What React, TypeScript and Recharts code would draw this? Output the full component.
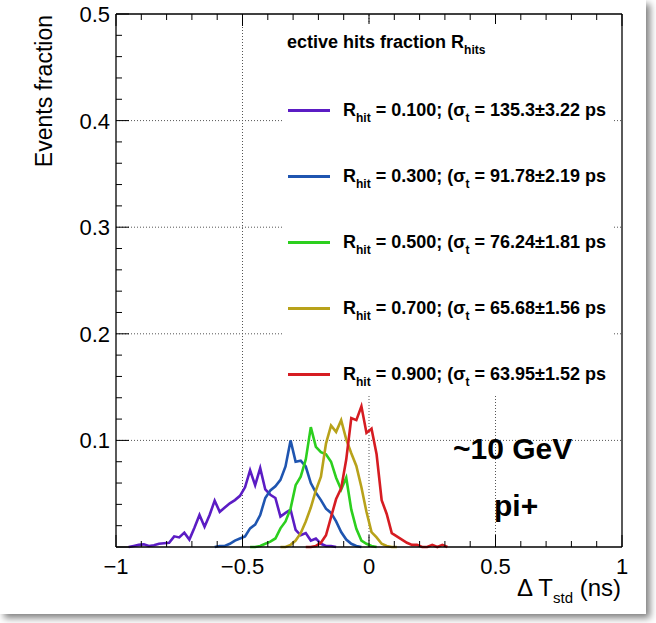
import { LineChart, Line, XAxis, YAxis, ReferenceLine } from "recharts";

// bin centres of the Delta T histogram (ns)
const binCenters = [
  -0.97, -0.95, -0.93, -0.91, -0.89, -0.87, -0.85, -0.83, -0.81, -0.79,
  -0.77, -0.75, -0.73, -0.71, -0.69, -0.67, -0.65, -0.63, -0.61, -0.59,
  -0.57, -0.55, -0.53, -0.51, -0.49, -0.47, -0.45, -0.43, -0.41, -0.39,
  -0.37, -0.35, -0.33, -0.31, -0.29, -0.27, -0.25, -0.23, -0.21, -0.19,
  -0.17, -0.15, -0.13, -0.11, -0.09, -0.07, -0.05, -0.03, -0.01, 0.01,
  0.03, 0.05, 0.07, 0.09, 0.11, 0.13, 0.15, 0.17, 0.19, 0.21,
  0.23, 0.25, 0.27, 0.29, 0.31,
];

const n = null;

const rhit010 = [
  n, 0, 0.001, 0.002, 0.0025, 0.001, 0.0016, 0.003, 0.0035, 0.004,
  0.01, 0.009, 0.0135, 0.007, 0.018, 0.03, 0.019, 0.03, 0.0435, 0.033,
  0.037, 0.041, 0.044, 0.048, 0.056, 0.072, 0.058, 0.074, 0.054, 0.049,
  0.046, 0.0285, 0.032, 0.035, 0.016, 0.011, 0.013, 0.006, 0.008, 0.003,
  0.001, 0.001, 0, n, n, n, n, n, n, n,
  n, n, n, n, n, n, n, n, n, n,
  n, n, n, n, n,
];

const rhit030 = [
  n, n, n, n, n, n, n, n, n, n,
  n, n, n, n, n, n, n, n, 0, 0.001,
  0.001, 0.003, 0.006, 0.008, 0.01, 0.0175, 0.021, 0.03, 0.046, 0.053,
  0.057, 0.063, 0.0755, 0.1, 0.08, 0.081, 0.0755, 0.06, 0.051, 0.044,
  0.036, 0.032, 0.024, 0.014, 0.007, 0.003, 0.001, 0, n, n,
  n, n, n, n, n, n, n, n, n, n,
  n, n, n, n, n,
];

const rhit050 = [
  n, n, n, n, n, n, n, n, n, n,
  n, n, n, n, n, n, n, n, n, n,
  n, n, n, n, n, 0, 0, 0.001, 0.003, 0.005,
  0.008, 0.0175, 0.024, 0.036, 0.058, 0.066, 0.082, 0.1125, 0.094, 0.089,
  0.087, 0.08, 0.065, 0.054, 0.065, 0.035, 0.017, 0.006, 0.003, 0.001,
  0, n, n, n, n, n, n, n, n, n,
  n, n, n, n, n,
];

const rhit070 = [
  n, n, n, n, n, n, n, n, n, n,
  n, n, n, n, n, n, n, n, n, n,
  n, n, n, n, n, n, n, n, n, n,
  n, 0, 0, 0.002, 0.006, 0.013, 0.024, 0.037, 0.053, 0.066,
  0.097, 0.114, 0.108, 0.119, 0.101, 0.088, 0.076, 0.056, 0.033, 0.014,
  0.009, 0.003, 0.001, 0, 0, n, n, n, n, n,
  n, n, n, n, n,
];

const rhit090 = [
  n, n, n, n, n, n, n, n, n, n,
  n, n, n, n, n, n, n, n, n, n,
  n, n, n, n, n, n, n, n, n, n,
  n, n, n, n, n, n, 0, 0, 0.001, 0.004,
  0.011, 0.028, 0.045, 0.055, 0.082, 0.121, 0.119, 0.132, 0.107, 0.111,
  0.087, 0.044, 0.031, 0.013, 0.01, 0.007, 0.004, 0.002, 0.002, 0,
  0, 0.002, 0, 0.002, 0,
];

const seriesKeys = ["r010", "r030", "r050", "r070", "r090"];
const seriesColors = ["#5b1cc4", "#1f55b0", "#2ccf1e", "#b8a21a", "#d61c22"];
const rhitLabels = ["0.100", "0.300", "0.500", "0.700", "0.900"];
const sigmaLabels = ["135.3\u00b13.22", "91.78\u00b12.19", "76.24\u00b11.81", "65.68\u00b11.56", "63.95\u00b11.52"];

const xTicks = [
  -1, -0.9, -0.8, -0.7, -0.6, -0.5, -0.4, -0.3, -0.2, -0.1, 0,
  0.1, 0.2, 0.3, 0.4, 0.5, 0.6, 0.7, 0.8, 0.9, 1,
];
const xMajor = [-1, -0.5, 0, 0.5, 1];
const yTicks = [
  0, 0.02, 0.04, 0.06, 0.08, 0.1, 0.12, 0.14, 0.16, 0.18, 0.2,
  0.22, 0.24, 0.26, 0.28, 0.3, 0.32, 0.34, 0.36, 0.38, 0.4,
  0.42, 0.44, 0.46, 0.48, 0.5,
];
const yMajor = [0.1, 0.2, 0.3, 0.4, 0.5];
const xGrid = [-0.5, 0, 0.5];
const yGrid = [0.1, 0.2, 0.3, 0.4];

const allSeries = [rhit010, rhit030, rhit050, rhit070, rhit090];
const rows = binCenters.map((x, i) => {
  const row: Record<string, number | null> = { x };
  seriesKeys.forEach((k, s) => (row[k] = allSeries[s][i]));
  return row;
});

const FONT = "'Liberation Sans', Arial, Helvetica, sans-serif";
const fmt = (v: number) => (v < 0 ? "\u2212" + String(-v) : String(v));

function BottomTick(props: any) {
  const { x, y, payload } = props;
  const major = xMajor.includes(payload.value);
  return (
    <g>
      <line x1={x} x2={x} y1={y} y2={y - (major ? 12 : 6)} stroke="#000" strokeWidth={1} />
      {major && (
        <text x={x} y={y + 27} textAnchor="middle" fontSize={22} fontFamily={FONT} fill="#000">
          {fmt(payload.value)}
        </text>
      )}
    </g>
  );
}

function TopTick(props: any) {
  const { x, y, payload } = props;
  const major = xMajor.includes(payload.value);
  return <line x1={x} x2={x} y1={y} y2={y + (major ? 12 : 6)} stroke="#000" strokeWidth={1} />;
}

function LeftTick(props: any) {
  const { x, y, payload } = props;
  const major = yMajor.includes(payload.value) || payload.value === 0;
  return (
    <g>
      <line x1={x} x2={x + (major ? 13 : 6)} y1={y} y2={y} stroke="#000" strokeWidth={1} />
      {yMajor.includes(payload.value) && (
        <text x={x - 6} y={y + 8} textAnchor="end" fontSize={22} fontFamily={FONT} fill="#000">
          {String(payload.value)}
        </text>
      )}
    </g>
  );
}

function RightTick(props: any) {
  const { x, y, payload } = props;
  const major = yMajor.includes(payload.value) || payload.value === 0;
  return <line x1={x} x2={x - (major ? 13 : 6)} y1={y} y2={y} stroke="#000" strokeWidth={1} />;
}

const sub = (t: string) => (
  <span style={{ fontSize: 12, position: "relative", top: 6 }}>{t}</span>
);

export default function App() {
  return (
    <div style={{ position: "absolute", left: 0, top: 0, width: 656, height: 623, background: "#fff", fontFamily: FONT }}>
      <div
        style={{
          position: "absolute",
          left: 0,
          top: 0,
          width: 646,
          height: 614,
          background: "#fff",
          boxShadow: "4px 4px 7px rgba(0,0,0,0.5)",
        }}
      />
      <div style={{ position: "absolute", left: 0, top: 0 }}>
        <LineChart width={656} height={623} data={rows} margin={{ top: 0, right: 0, bottom: 0, left: 0 }}>
          <XAxis
            xAxisId="bottom"
            dataKey="x"
            type="number"
            domain={[-1, 1]}
            ticks={xTicks}
            interval={0}
            height={76}
            tickSize={0}
            tickMargin={0}
            tickLine={false}
            tick={<BottomTick />}
            axisLine={{ stroke: "#000", strokeWidth: 1.3 }}
          />
          <XAxis
            xAxisId="top"
            orientation="top"
            dataKey="x"
            type="number"
            domain={[-1, 1]}
            ticks={xTicks}
            interval={0}
            height={14}
            tickSize={0}
            tickMargin={0}
            tickLine={false}
            tick={<TopTick />}
            axisLine={{ stroke: "#000", strokeWidth: 1.3 }}
          />
          <YAxis
            yAxisId="left"
            type="number"
            domain={[0, 0.5]}
            ticks={yTicks}
            interval={0}
            width={116}
            tickSize={0}
            tickMargin={0}
            tickLine={false}
            tick={<LeftTick />}
            axisLine={{ stroke: "#000", strokeWidth: 1.3 }}
          />
          <YAxis
            yAxisId="right"
            orientation="right"
            type="number"
            domain={[0, 0.5]}
            ticks={yTicks}
            interval={0}
            width={34}
            tickSize={0}
            tickMargin={0}
            tickLine={false}
            tick={<RightTick />}
            axisLine={{ stroke: "#000", strokeWidth: 1.3 }}
          />
          {xGrid.map((v) => (
            <ReferenceLine key={"gx" + v} xAxisId="bottom" yAxisId="left" x={v} stroke="#555" strokeDasharray="1 2" />
          ))}
          {yGrid.map((v) => (
            <ReferenceLine key={"gy" + v} xAxisId="bottom" yAxisId="left" y={v} stroke="#555" strokeDasharray="1 2" />
          ))}
          {seriesKeys.map((k, i) => (
            <Line
              key={k}
              xAxisId="bottom"
              yAxisId="left"
              dataKey={k}
              type="linear"
              stroke={seriesColors[i]}
              strokeWidth={2.6}
              dot={false}
              activeDot={false}
              isAnimationActive={false}
            />
          ))}
        </LineChart>
      </div>

      {/* legend box (clipped on the left, as in the original figure) */}
      <div
        style={{
          position: "absolute",
          left: 283,
          top: 24,
          width: 329,
          height: 372,
          background: "#fff",
          overflow: "hidden",
          fontWeight: "bold",
          fontSize: 18,
          lineHeight: "21px",
          color: "#000",
          whiteSpace: "nowrap",
        }}
      >
        <div style={{ position: "absolute", left: 4, top: 8 }}>
          ective hits fraction R{sub("hits")}
        </div>
        {seriesKeys.map((k, i) => (
          <div key={k} style={{ position: "absolute", left: 0, top: 76 + i * 66, height: 21 }}>
            <div
              style={{
                position: "absolute",
                left: 5,
                top: 9,
                width: 42,
                height: 3,
                background: seriesColors[i],
              }}
            />
            <div style={{ position: "absolute", left: 60, top: 0 }}>
              R{sub("hit")} = {rhitLabels[i]}; (σ{sub("t")} = {sigmaLabels[i]} ps
            </div>
          </div>
        ))}
      </div>

      {/* axis titles */}
      <div
        style={{
          position: "absolute",
          left: 31,
          top: 215,
          width: 200,
          textAlign: "right",
          lineHeight: "26px",
          transformOrigin: "0 0",
          transform: "rotate(-90deg)",
          fontSize: 23,
          whiteSpace: "nowrap",
          color: "#000",
        }}
      >
        Events fraction
      </div>
      <div
        style={{
          position: "absolute",
          right: 656 - 621,
          top: 577,
          fontSize: 24,
          lineHeight: "22px",
          whiteSpace: "nowrap",
          color: "#000",
        }}
      >
        Δ T<span style={{ fontSize: 15, position: "relative", top: 7 }}>std</span> (ns)
      </div>

      {/* annotations */}
      <div style={{ position: "absolute", left: 453, top: 432, fontSize: 30, lineHeight: "34px", fontWeight: "bold", color: "#000" }}>
        ~10 GeV
      </div>
      <div style={{ position: "absolute", left: 494, top: 489, fontSize: 30, lineHeight: "34px", fontWeight: "bold", color: "#000" }}>
        pi+
      </div>
    </div>
  );
}
